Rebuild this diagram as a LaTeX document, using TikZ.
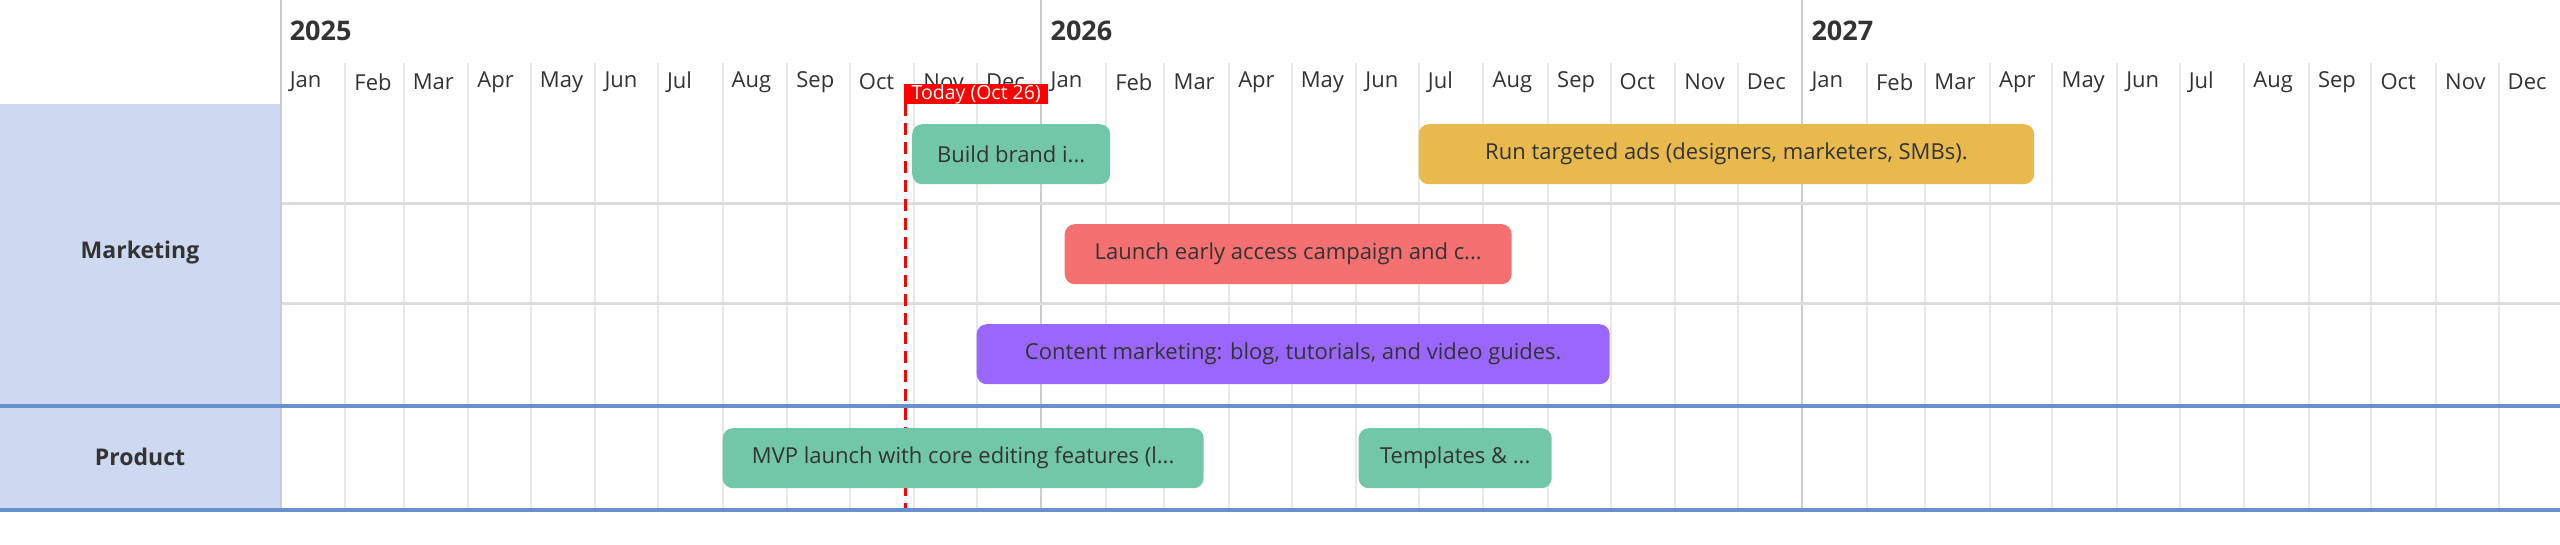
\documentclass[tikz,border=0pt]{standalone}
\usepackage{fontspec}
\setmainfont{Open Sans}
\definecolor{txt}{HTML}{333333}
\definecolor{panel}{HTML}{CDD9F0}
\definecolor{grpline}{HTML}{6890CF}
\definecolor{yearline}{HTML}{CCCCCC}
\definecolor{monthline}{HTML}{E8E8E8}
\definecolor{rowline}{HTML}{DDDDDD}
\definecolor{bgreen}{HTML}{72C7A8}
\definecolor{byellow}{HTML}{E8B94C}
\definecolor{bred}{HTML}{F57070}
\definecolor{bpurple}{HTML}{9966FF}
\definecolor{today}{HTML}{FF0000}
\tikzset{
  bar/.style={rounded corners=10pt, inner sep=0pt, text=txt, font=\fontsize{22}{26}\selectfont, anchor=north west},
  monthlbl/.style={anchor=west, inner sep=0pt, text=txt, font=\fontsize{22}{26}\selectfont},
  yearlbl/.style={anchor=west, inner sep=0pt, text=txt, font=\fontsize{27}{32}\selectfont\bfseries},
  grplbl/.style={inner sep=0pt, text=txt, font=\fontsize{23}{28}\selectfont\bfseries},
  mline/.style={draw=monthline, line width=2pt},
  yline/.style={draw=yearline, line width=2pt},
  rline/.style={draw=rowline, line width=2.5pt},
  gline/.style={draw=grpline, line width=4pt},
  todayline/.style={draw=today, line width=3pt, dash pattern=on 12pt off 7pt},
  todaylbl/.style={fill=today, text=white, inner sep=0pt, anchor=north west, font=\fontsize{19.5}{22}\selectfont}
}
\begin{document}
\begin{tikzpicture}[x=1pt, y=-1pt]
\useasboundingbox (0,0) rectangle (2560,544);
% left panel
\fill[panel] (0,104) rectangle (280,508);
\node[grplbl] (gmark) at (140,253) {Marketing};
\node[grplbl] (gprod) at (140,457) {Product};
% grid
\foreach \yr [count=\yi from 0] in {2025,2026,2027} {
  \foreach \m/\c in {Jan/0,Feb/31,Mar/59,Apr/90,May/120,Jun/151,Jul/181,Aug/212,Sep/243,Oct/273,Nov/304,Dec/334} {
    \pgfmathsetmacro\xx{280.6+(365*\yi+\c)*2.0845}
    \ifnum\c=0
      \draw[yline] (\xx,0) -- (\xx,508);
      \node[yearlbl] (y\yr) at (\xx+9,31) {\yr};
    \else
      \draw[mline] (\xx,63) -- (\xx,508);
    \fi
    \node[monthlbl] (m\yr\m) at (\xx+9,82) {\m};
  }
}
% row separators
\draw[rline] (282,203.5) -- (2560,203.5);
\draw[rline] (282,303.5) -- (2560,303.5);
% group lines
\draw[gline] (0,406) -- (2560,406);
\draw[gline] (0,510) -- (2560,510);
% today line
\coordinate (ttop) at (905.5,104);
\coordinate (tbot) at (905.5,508);
\draw[todayline] (ttop) -- (tbot);
\node[todaylbl, minimum width=144pt, minimum height=20pt] (tlbl) at (904,84) {Today (Oct 26)};
% bars
\node[bar, fill=bgreen, minimum width=198pt, minimum height=60pt] (b1) at (912,124) {Build brand i...};
\node[bar, fill=byellow, minimum width=615.5pt, minimum height=60pt] (b2) at (1418.5,124) {Run targeted ads (designers, marketers, SMBs).};
\node[bar, fill=bred, minimum width=447pt, minimum height=60pt] (b3) at (1064.5,224) {Launch early access campaign and c...};
\node[bar, fill=bpurple, minimum width=633pt, minimum height=60pt] (b4) at (976.5,324) {Content marketing: blog, tutorials, and video guides.};
\node[bar, fill=bgreen, minimum width=481pt, minimum height=60pt] (b5) at (722.5,428) {MVP launch with core editing features (l...};
\node[bar, fill=bgreen, minimum width=193pt, minimum height=60pt] (b6) at (1358.5,428) {Templates \& ...};
\end{tikzpicture}
\end{document}
